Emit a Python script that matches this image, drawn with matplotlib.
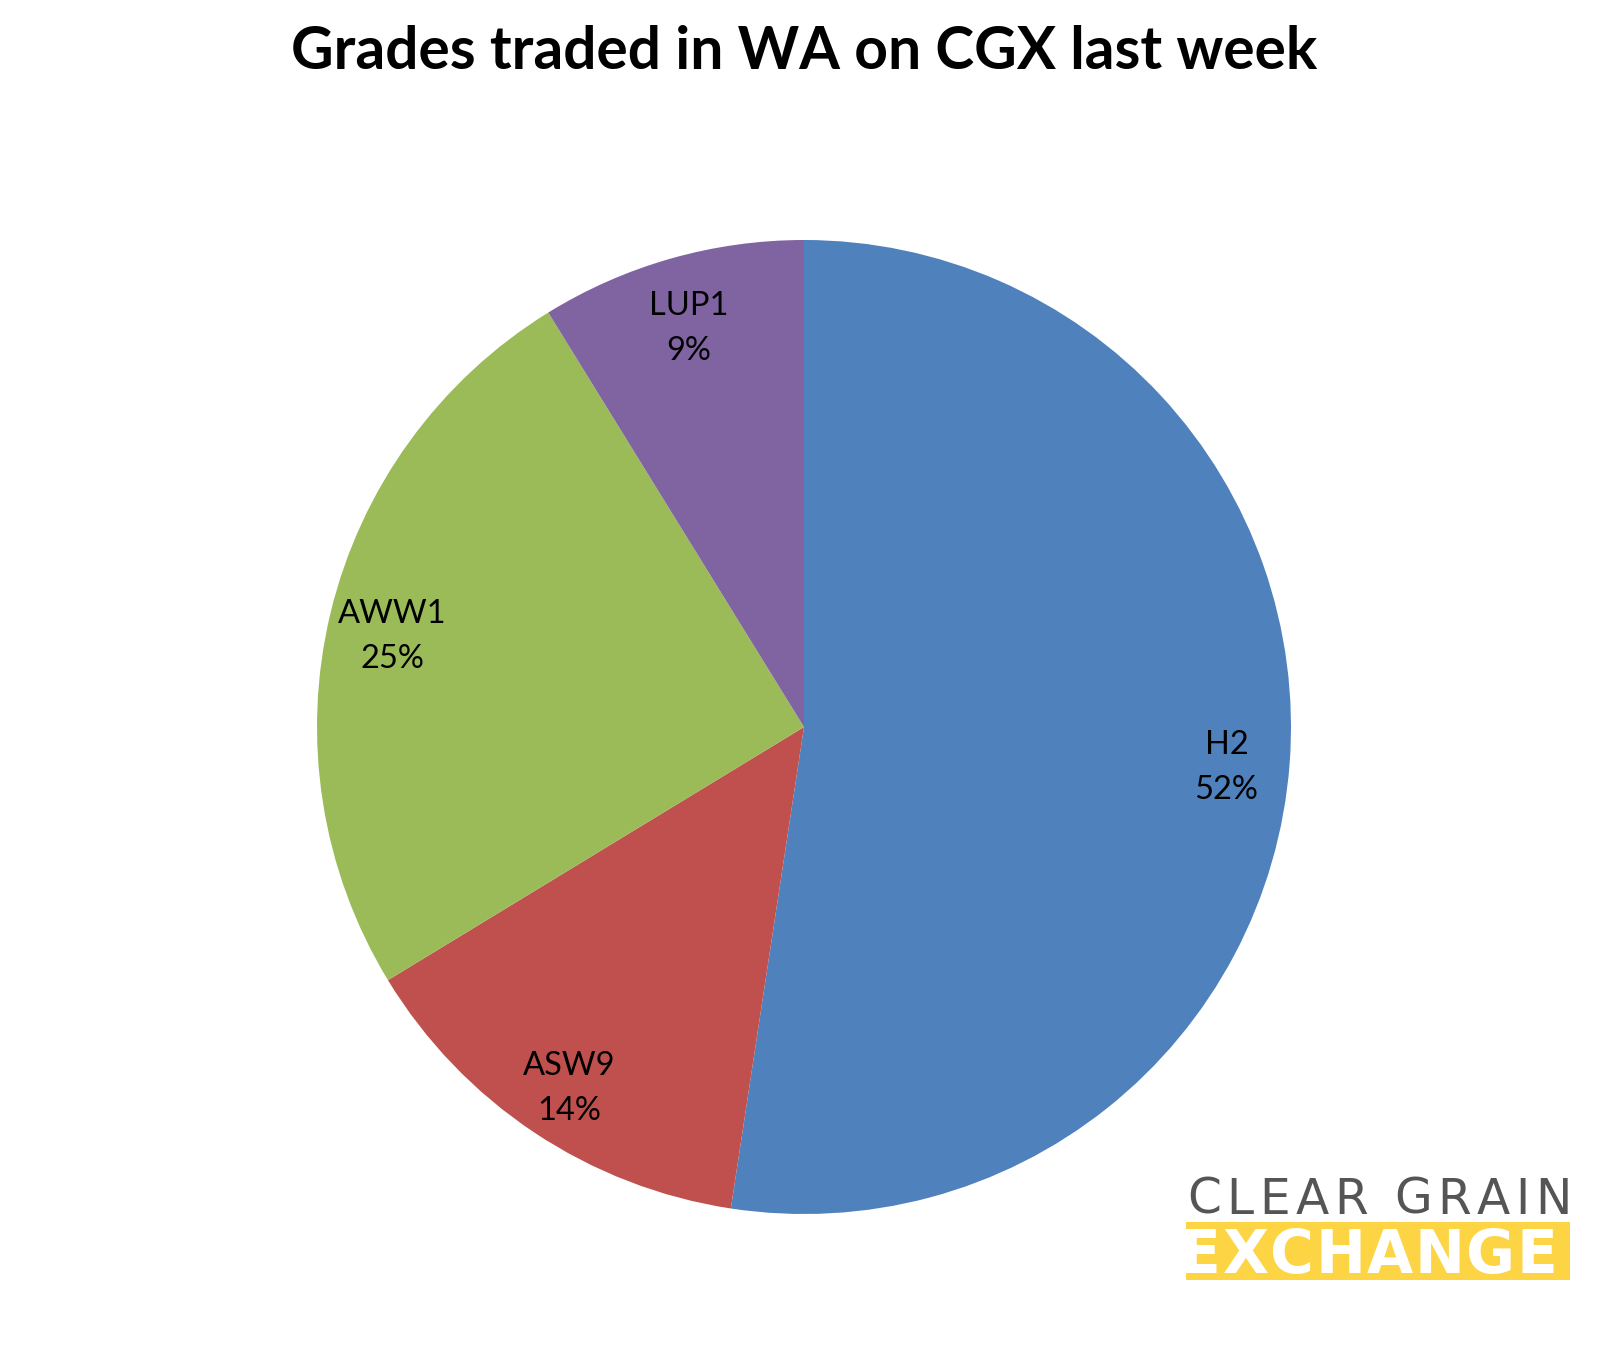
import numpy as np
import matplotlib.pyplot as plt
from matplotlib.patches import Rectangle

grades = ["H2", "ASW9", "AWW1", "LUP1"]
shares = [52.4, 13.9, 24.9, 8.8]
colours = ["#4F81BD", "#C0504D", "#9BBB59", "#8064A2"]
title = "Grades traded in WA on CGX last week"

W, H = 1609, 1351
fig = plt.figure(figsize=(W / 100, H / 100), dpi=100)

# pie area, centre ~ (804, 727) px, radius ~487 px
cx, cy, r = 804, 727, 487
ax = fig.add_axes([(cx - r) / W, (H - cy - r) / H, 2 * r / W, 2 * r / H])
total = sum(shares)
labels = ["{}\n{:.0f}%".format(g, s / total * 100) for g, s in zip(grades, shares)]
wedges, texts = ax.pie(shares, colors=colours, startangle=90, counterclock=False,
                       labels=labels, labeldistance=0.87,
                       wedgeprops=dict(linewidth=0),
                       textprops=dict(fontsize=23.5, family="Lato", ha="center",
                                      va="center", linespacing=1.62))
# nudge labels down a little, like excel does
for t in texts:
    x, y = t.get_position()
    t.set_position((x, y - 0.018))
ax.set_xlim(-1, 1)
ax.set_ylim(-1, 1)
ax.set_aspect("equal")
ax.axis("off")

# overlay in pixel coords for title and logo
ov = fig.add_axes([0, 0, 1, 1], zorder=5)
ov.set_xlim(0, W)
ov.set_ylim(H, 0)
ov.axis("off")

ov.text(804, 52, title, ha="center", va="center", fontsize=42.2,
        fontweight="bold", family="Lato")

renderer = fig.canvas.get_renderer()


def tracked(x, y, s, gap, clip=None, **kw):
    # letter-spaced text, one character at a time
    for ch in s:
        t = ov.text(x, y, ch, ha="left", va="baseline", **kw)
        if clip is not None:
            t.set_clip_path(clip)
        x += t.get_window_extent(renderer).width + gap


tracked(1187, 1214, "CLEAR GRAIN", 5.5, fontsize=35,
        family="DejaVu Sans", color="#555555")
bar = Rectangle((1186, 1222), 384, 58, color="#FCD444", lw=0)
ov.add_patch(bar)
tracked(1180, 1273, "EXCHANGE", 1.5, clip=bar, fontsize=43,
        fontweight="bold", family="DejaVu Sans", color="white")

fig.savefig("out.png", dpi=100)
